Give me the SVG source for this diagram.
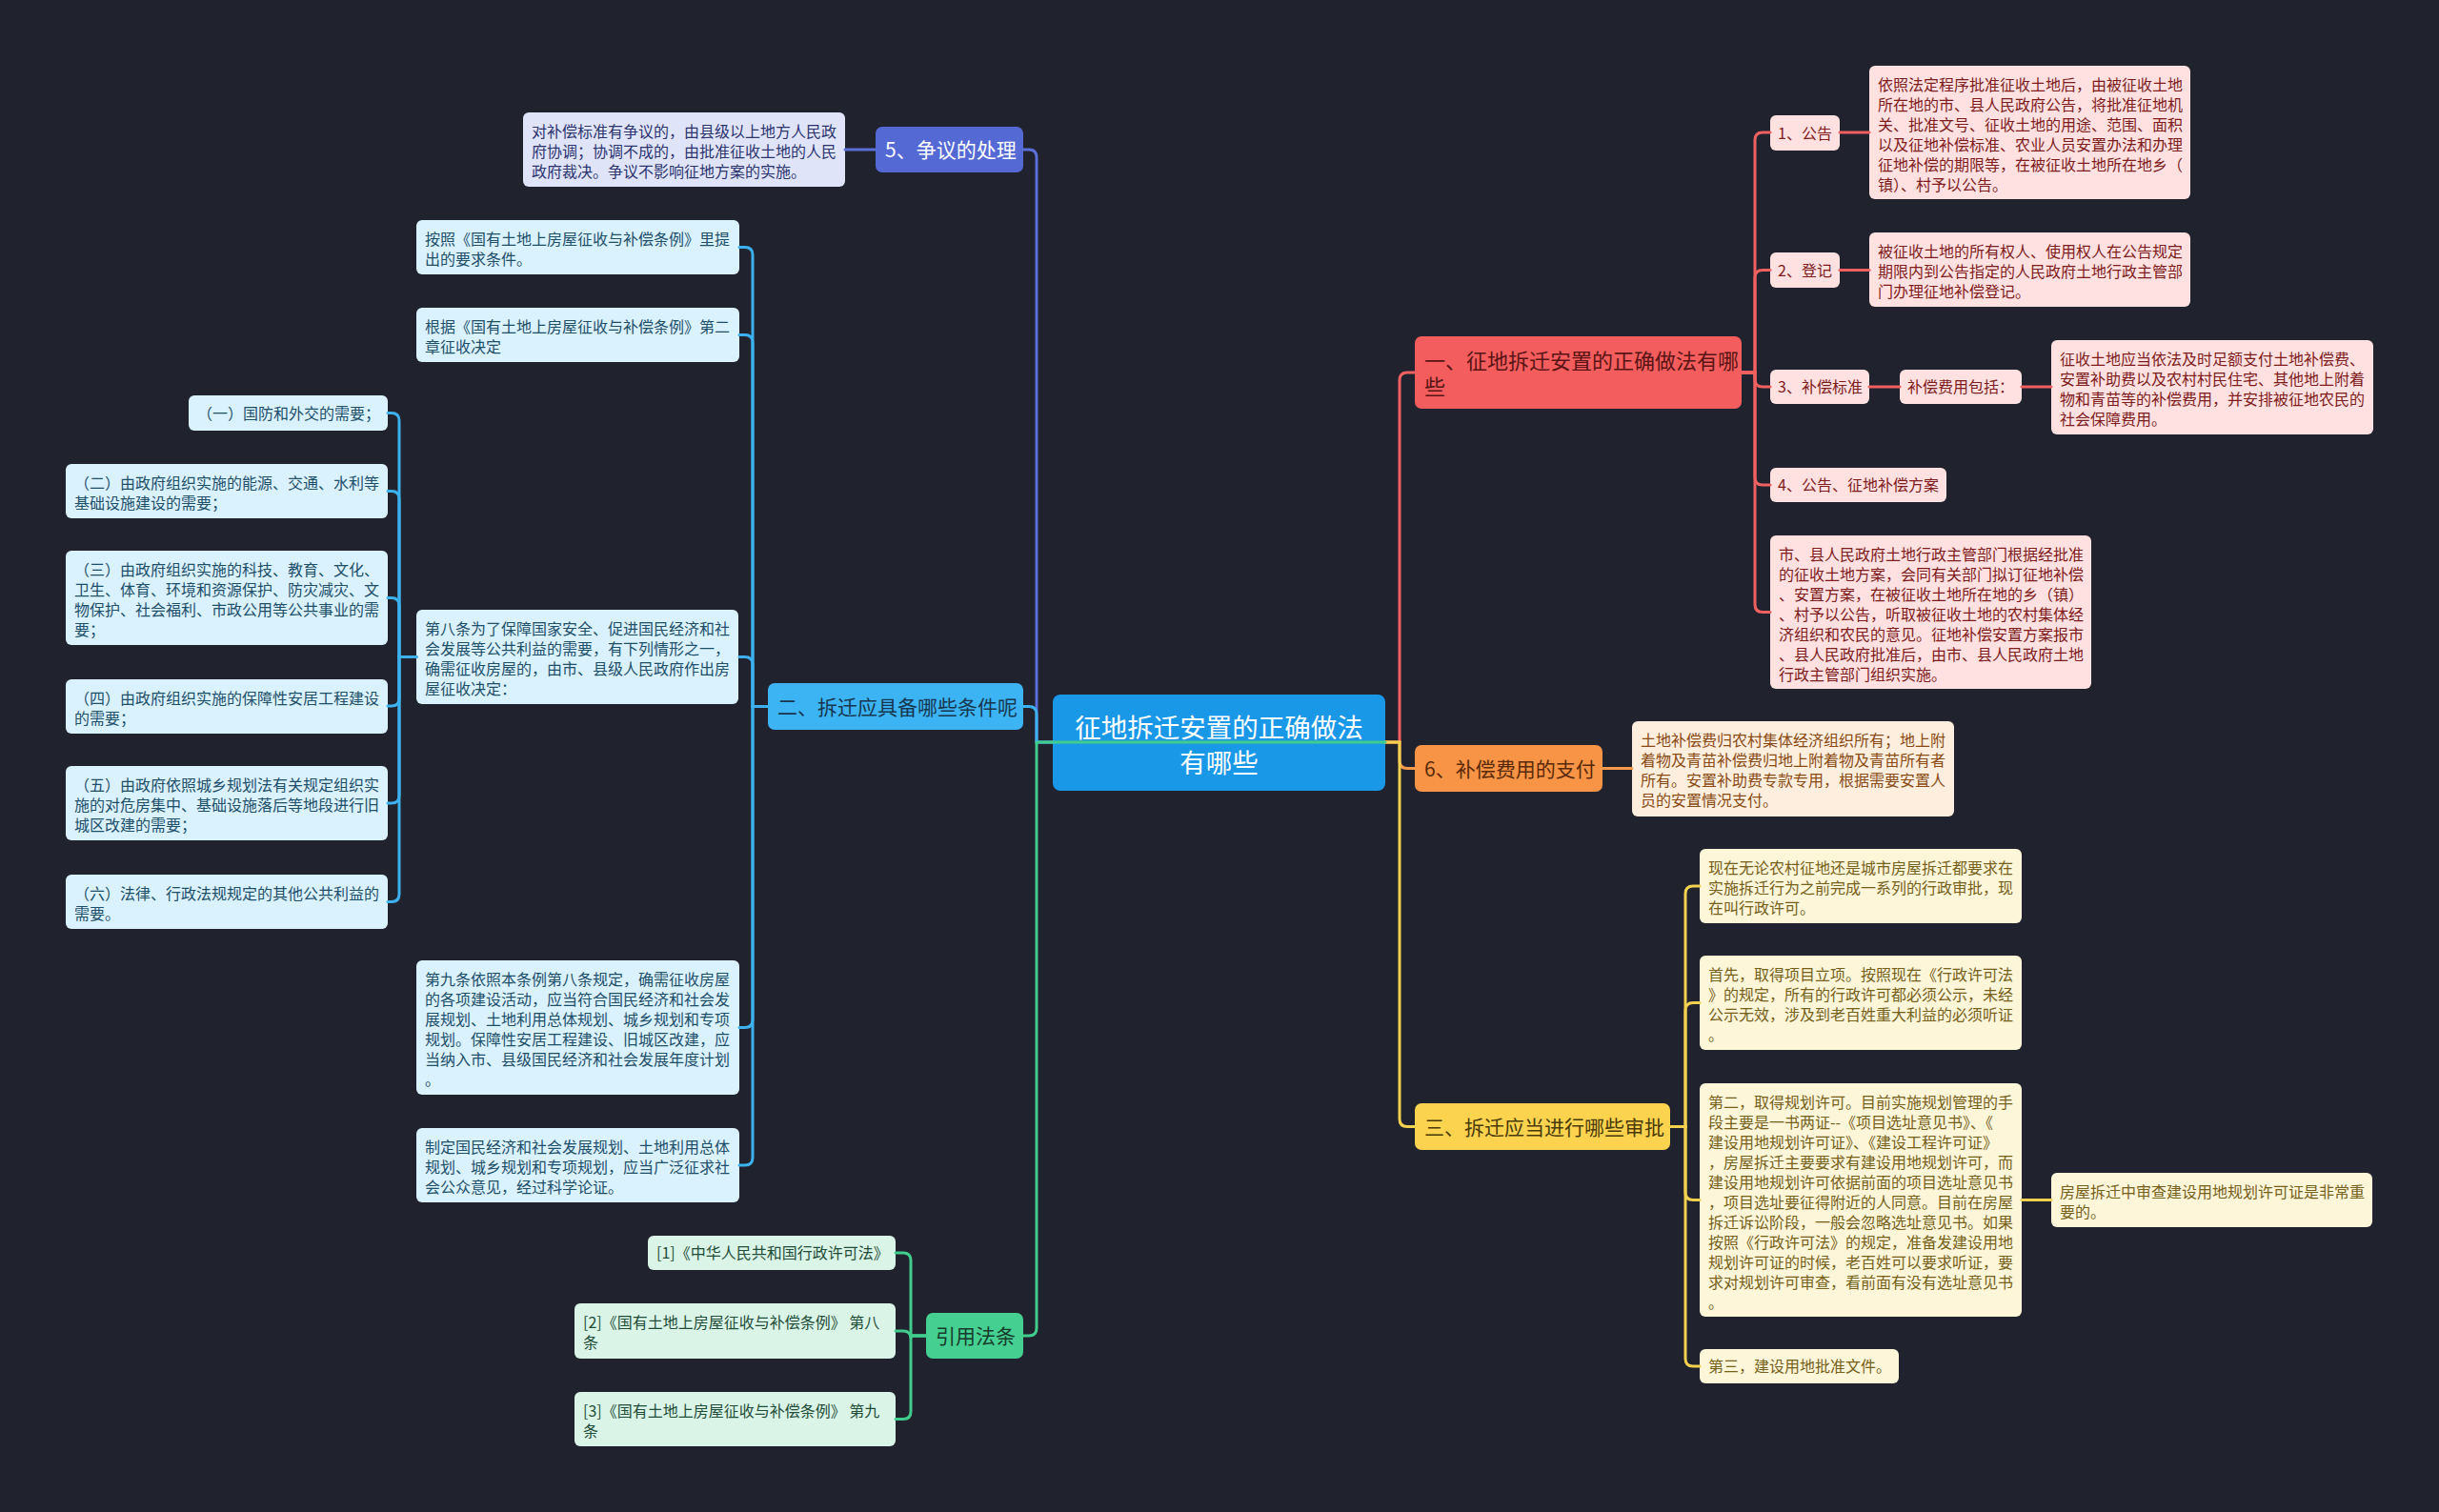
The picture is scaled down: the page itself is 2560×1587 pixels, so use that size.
<svg xmlns="http://www.w3.org/2000/svg" width="2560" height="1587" viewBox="0 0 2560 1587">
<style>
text{font-family:"Noto Sans CJK SC","Noto Sans",sans-serif;}
.leaf{font-size:16px;}
.l1{font-size:21px;}
.c{fill:none;stroke-width:3;stroke-linecap:round;}
.cr{stroke:#ef6060;}.co{stroke:#f59a4a;}.cy{stroke:#f2d050;}
.cp{stroke:#5a6fd8;}.cb{stroke:#3db0ee;}.cg{stroke:#40cc8c;}
.fr{fill:#ffe1e1;}.tr{fill:#7e1b1b;}
.fo{fill:#feeedd;}.to{fill:#8a4a14;}
.fy{fill:#fdf6d8;}.ty{fill:#76601a;}
.fp{fill:#e0e4f8;}.tp{fill:#2c3470;}
.fb{fill:#daf2fd;}.tb{fill:#1d4f6b;}
.fg{fill:#daf4e8;}.tg{fill:#1f4d38;}
</style>
<rect width="2560" height="1587" fill="#20232e"/>

<g id="root">
<rect x="1105" y="729" width="349" height="101" rx="8" fill="#1a98e8"/>
<text x="1279.5" y="773.5" font-size="27.5" fill="#ffffff" text-anchor="middle">征地拆迁安置的正确做法</text>
<text x="1279.5" y="810.5" font-size="27.5" fill="#ffffff" text-anchor="middle">有哪些</text>
</g>

<g id="n-5">
<rect x="919" y="133" width="155" height="48" rx="7" fill="#5469d4"/>
<text class="l1" x="929" y="165" fill="#ffffff">5、争议的处理</text>
</g>
<g id="n-5-1">
<rect class="fp" x="549" y="118" width="338" height="78" rx="6"/>
<text class="leaf tp"><tspan x="558" y="144">对补偿标准有争议的，由县级以上地方人民政</tspan><tspan x="558" y="165">府协调；协调不成的，由批准征收土地的人民</tspan><tspan x="558" y="186">政府裁决。争议不影响征地方案的实施。</tspan></text>
</g>

<g id="n-2">
<rect x="806" y="717" width="268" height="49" rx="7" fill="#3cb4f3"/>
<text class="l1" x="816" y="749.5" fill="#173650">二、拆迁应具备哪些条件呢</text>
</g>
<g id="n-2-1">
<rect class="fb" x="437" y="231" width="339" height="57" rx="6"/>
<text class="leaf tb"><tspan x="446" y="257">按照《国有土地上房屋征收与补偿条例》里提</tspan><tspan x="446" y="278">出的要求条件。</tspan></text>
</g>
<g id="n-2-2">
<rect class="fb" x="437" y="323" width="339" height="57" rx="6"/>
<text class="leaf tb"><tspan x="446" y="349">根据《国有土地上房屋征收与补偿条例》第二</tspan><tspan x="446" y="370">章征收决定</tspan></text>
</g>
<g id="n-2-3">
<rect class="fb" x="437" y="640" width="338" height="99" rx="6"/>
<text class="leaf tb"><tspan x="446" y="666">第八条为了保障国家安全、促进国民经济和社</tspan><tspan x="446" y="687">会发展等公共利益的需要，有下列情形之一，</tspan><tspan x="446" y="708">确需征收房屋的，由市、县级人民政府作出房</tspan><tspan x="446" y="729">屋征收决定：</tspan></text>
</g>
<g id="n-2-3-1">
<rect class="fb" x="198" y="415" width="209" height="37" rx="6"/>
<text class="leaf tb" x="207" y="439.5">（一）国防和外交的需要；</text>
</g>
<g id="n-2-3-2">
<rect class="fb" x="69" y="487" width="338" height="57" rx="6"/>
<text class="leaf tb"><tspan x="78" y="513">（二）由政府组织实施的能源、交通、水利等</tspan><tspan x="78" y="534">基础设施建设的需要；</tspan></text>
</g>
<g id="n-2-3-3">
<rect class="fb" x="69" y="578" width="338" height="99" rx="6"/>
<text class="leaf tb"><tspan x="78" y="604">（三）由政府组织实施的科技、教育、文化、</tspan><tspan x="78" y="625">卫生、体育、环境和资源保护、防灾减灾、文</tspan><tspan x="78" y="646">物保护、社会福利、市政公用等公共事业的需</tspan><tspan x="78" y="667">要；</tspan></text>
</g>
<g id="n-2-3-4">
<rect class="fb" x="69" y="713" width="338" height="57" rx="6"/>
<text class="leaf tb"><tspan x="78" y="739">（四）由政府组织实施的保障性安居工程建设</tspan><tspan x="78" y="760">的需要；</tspan></text>
</g>
<g id="n-2-3-5">
<rect class="fb" x="69" y="804" width="338" height="78" rx="6"/>
<text class="leaf tb"><tspan x="78" y="830">（五）由政府依照城乡规划法有关规定组织实</tspan><tspan x="78" y="851">施的对危房集中、基础设施落后等地段进行旧</tspan><tspan x="78" y="872">城区改建的需要；</tspan></text>
</g>
<g id="n-2-3-6">
<rect class="fb" x="69" y="918" width="338" height="57" rx="6"/>
<text class="leaf tb"><tspan x="78" y="944">（六）法律、行政法规规定的其他公共利益的</tspan><tspan x="78" y="965">需要。</tspan></text>
</g>
<g id="n-2-4">
<rect class="fb" x="437" y="1008" width="339" height="141" rx="6"/>
<text class="leaf tb"><tspan x="446" y="1034">第九条依照本条例第八条规定，确需征收房屋</tspan><tspan x="446" y="1055">的各项建设活动，应当符合国民经济和社会发</tspan><tspan x="446" y="1076">展规划、土地利用总体规划、城乡规划和专项</tspan><tspan x="446" y="1097">规划。保障性安居工程建设、旧城区改建，应</tspan><tspan x="446" y="1118">当纳入市、县级国民经济和社会发展年度计划</tspan><tspan x="446" y="1139">。</tspan></text>
</g>
<g id="n-2-5">
<rect class="fb" x="437" y="1184" width="339" height="78" rx="6"/>
<text class="leaf tb"><tspan x="446" y="1210">制定国民经济和社会发展规划、土地利用总体</tspan><tspan x="446" y="1231">规划、城乡规划和专项规划，应当广泛征求社</tspan><tspan x="446" y="1252">会公众意见，经过科学论证。</tspan></text>
</g>

<g id="n-law">
<rect x="972" y="1378" width="102" height="48" rx="7" fill="#45d092"/>
<text class="l1" x="982" y="1410" fill="#173a2a">引用法条</text>
</g>
<g id="n-law-1">
<rect class="fg" x="680" y="1297" width="260" height="36" rx="6"/>
<text class="leaf tg" x="689" y="1321">[1]《中华人民共和国行政许可法》</text>
</g>
<g id="n-law-2">
<rect class="fg" x="603" y="1368" width="337" height="58" rx="6"/>
<text class="leaf tg"><tspan x="612" y="1394">[2]《国有土地上房屋征收与补偿条例》 第八</tspan><tspan x="612" y="1415">条</tspan></text>
</g>
<g id="n-law-3">
<rect class="fg" x="603" y="1461" width="337" height="57" rx="6"/>
<text class="leaf tg"><tspan x="612" y="1487">[3]《国有土地上房屋征收与补偿条例》 第九</tspan><tspan x="612" y="1508">条</tspan></text>
</g>

<g id="n-1">
<rect x="1485" y="353" width="343" height="76" rx="7" fill="#f45d5d"/>
<text font-size="22" fill="#5a1414"><tspan x="1495" y="386.5">一、征地拆迁安置的正确做法有哪</tspan><tspan x="1495" y="413.5">些</tspan></text>
</g>
<g id="n-1-1">
<rect class="fr" x="1858" y="121" width="73" height="37" rx="6"/>
<text class="leaf tr" x="1866" y="145.5">1、公告</text>
</g>
<g id="n-1-1-1">
<rect class="fr" x="1962" y="69" width="337" height="140" rx="6"/>
<text class="leaf tr"><tspan x="1971" y="95">依照法定程序批准征收土地后，由被征收土地</tspan><tspan x="1971" y="116">所在地的市、县人民政府公告，将批准征地机</tspan><tspan x="1971" y="137">关、批准文号、征收土地的用途、范围、面积</tspan><tspan x="1971" y="158">以及征地补偿标准、农业人员安置办法和办理</tspan><tspan x="1971" y="179">征地补偿的期限等，在被征收土地所在地乡（</tspan><tspan x="1971" y="200">镇）、村予以公告。</tspan></text>
</g>
<g id="n-1-2">
<rect class="fr" x="1858" y="265" width="73" height="37" rx="6"/>
<text class="leaf tr" x="1866" y="289.5">2、登记</text>
</g>
<g id="n-1-2-1">
<rect class="fr" x="1962" y="244" width="337" height="78" rx="6"/>
<text class="leaf tr"><tspan x="1971" y="270">被征收土地的所有权人、使用权人在公告规定</tspan><tspan x="1971" y="291">期限内到公告指定的人民政府土地行政主管部</tspan><tspan x="1971" y="312">门办理征地补偿登记。</tspan></text>
</g>
<g id="n-1-3">
<rect class="fr" x="1858" y="388" width="104" height="36" rx="6"/>
<text class="leaf tr" x="1866" y="412">3、补偿标准</text>
</g>
<g id="n-1-3-1">
<rect class="fr" x="1994" y="388" width="128" height="36" rx="6"/>
<text class="leaf tr" x="2002" y="412">补偿费用包括：</text>
</g>
<g id="n-1-3-1-1">
<rect class="fr" x="2153" y="357" width="338" height="99" rx="6"/>
<text class="leaf tr"><tspan x="2162" y="383">征收土地应当依法及时足额支付土地补偿费、</tspan><tspan x="2162" y="404">安置补助费以及农村村民住宅、其他地上附着</tspan><tspan x="2162" y="425">物和青苗等的补偿费用，并安排被征地农民的</tspan><tspan x="2162" y="446">社会保障费用。</tspan></text>
</g>
<g id="n-1-4">
<rect class="fr" x="1858" y="491" width="185" height="36" rx="6"/>
<text class="leaf tr" x="1866" y="515">4、公告、征地补偿方案</text>
</g>
<g id="n-1-5">
<rect class="fr" x="1858" y="562" width="337" height="161" rx="6"/>
<text class="leaf tr"><tspan x="1867" y="588">市、县人民政府土地行政主管部门根据经批准</tspan><tspan x="1867" y="609">的征收土地方案，会同有关部门拟订征地补偿</tspan><tspan x="1867" y="630">、安置方案，在被征收土地所在地的乡（镇）</tspan><tspan x="1867" y="651">、村予以公告，听取被征收土地的农村集体经</tspan><tspan x="1867" y="672">济组织和农民的意见。征地补偿安置方案报市</tspan><tspan x="1867" y="693">、县人民政府批准后，由市、县人民政府土地</tspan><tspan x="1867" y="714">行政主管部门组织实施。</tspan></text>
</g>

<g id="n-6">
<rect x="1485" y="782" width="197" height="49" rx="7" fill="#f89445"/>
<text class="l1" x="1495" y="814.5" fill="#5a2a08">6、补偿费用的支付</text>
</g>
<g id="n-6-1">
<rect class="fo" x="1713" y="757" width="338" height="100" rx="6"/>
<text class="leaf to"><tspan x="1722" y="783">土地补偿费归农村集体经济组织所有；地上附</tspan><tspan x="1722" y="804">着物及青苗补偿费归地上附着物及青苗所有者</tspan><tspan x="1722" y="825">所有。安置补助费专款专用，根据需要安置人</tspan><tspan x="1722" y="846">员的安置情况支付。</tspan></text>
</g>

<g id="n-3">
<rect x="1485" y="1158" width="268" height="49" rx="7" fill="#fbd34f"/>
<text class="l1" x="1495" y="1190.5" fill="#4a3a08">三、拆迁应当进行哪些审批</text>
</g>
<g id="n-3-1">
<rect class="fy" x="1784" y="891" width="338" height="78" rx="6"/>
<text class="leaf ty"><tspan x="1793" y="917">现在无论农村征地还是城市房屋拆迁都要求在</tspan><tspan x="1793" y="938">实施拆迁行为之前完成一系列的行政审批，现</tspan><tspan x="1793" y="959">在叫行政许可。</tspan></text>
</g>
<g id="n-3-2">
<rect class="fy" x="1784" y="1003" width="338" height="99" rx="6"/>
<text class="leaf ty"><tspan x="1793" y="1029">首先，取得项目立项。按照现在《行政许可法</tspan><tspan x="1793" y="1050">》的规定，所有的行政许可都必须公示，未经</tspan><tspan x="1793" y="1071">公示无效，涉及到老百姓重大利益的必须听证</tspan><tspan x="1793" y="1092">。</tspan></text>
</g>
<g id="n-3-3">
<rect class="fy" x="1784" y="1137" width="338" height="245" rx="6"/>
<text class="leaf ty"><tspan x="1793" y="1163">第二，取得规划许可。目前实施规划管理的手</tspan><tspan x="1793" y="1184">段主要是一书两证--《项目选址意见书》、《</tspan><tspan x="1793" y="1205">建设用地规划许可证》、《建设工程许可证》</tspan><tspan x="1793" y="1226">，房屋拆迁主要要求有建设用地规划许可，而</tspan><tspan x="1793" y="1247">建设用地规划许可依据前面的项目选址意见书</tspan><tspan x="1793" y="1268">，项目选址要征得附近的人同意。目前在房屋</tspan><tspan x="1793" y="1289">拆迁诉讼阶段，一般会忽略选址意见书。如果</tspan><tspan x="1793" y="1310">按照《行政许可法》的规定，准备发建设用地</tspan><tspan x="1793" y="1331">规划许可证的时候，老百姓可以要求听证，要</tspan><tspan x="1793" y="1352">求对规划许可审查，看前面有没有选址意见书</tspan><tspan x="1793" y="1373">。</tspan></text>
</g>
<g id="n-3-3-1">
<rect class="fy" x="2153" y="1231" width="337" height="57" rx="6"/>
<text class="leaf ty"><tspan x="2162" y="1257">房屋拆迁中审查建设用地规划许可证是非常重</tspan><tspan x="2162" y="1278">要的。</tspan></text>
</g>
<g id="n-3-4">
<rect class="fy" x="1784" y="1416" width="209" height="36" rx="6"/>
<text class="leaf ty" x="1793" y="1440">第三，建设用地批准文件。</text>
</g>

<g id="connectors">
<path class="c cr" d="M1454 779 H1469 V399 Q1469 391 1477 391 H1485"/>
<path class="c co" d="M1454 779 H1469 V798.5 Q1469 806.5 1477 806.5 H1485"/>
<path class="c cy" d="M1454 779 H1469 V1174.5 Q1469 1182.5 1477 1182.5 H1485"/>
<path class="c cp" d="M1105 779 H1088 V165 Q1088 157 1080 157 H1074"/>
<path class="c cb" d="M1105 779 H1088 V749.5 Q1088 741.5 1080 741.5 H1074"/>
<path class="c cg" d="M1454 779 H1088 V1394 Q1088 1402 1080 1402 H1074"/>

<path class="c cr" d="M1828 391 H1842 V147 Q1842 139 1850 139 H1858"/>
<path class="c cr" d="M1828 391 H1842 V291.5 Q1842 283.5 1850 283.5 H1858"/>
<path class="c cr" d="M1828 391 H1842 V398 Q1842 406 1850 406 H1858"/>
<path class="c cr" d="M1828 391 H1842 V501 Q1842 509 1850 509 H1858"/>
<path class="c cr" d="M1828 391 H1842 V634.5 Q1842 642.5 1850 642.5 H1858"/>
<path class="c cr" d="M1931 139 H1962"/>
<path class="c cr" d="M1931 283.5 H1962"/>
<path class="c cr" d="M1962 406 H1994"/>
<path class="c cr" d="M2122 406 H2153"/>

<path class="c co" d="M1682 806.5 H1713"/>

<path class="c cy" d="M1753 1182.5 H1769 V938 Q1769 930 1777 930 H1784"/>
<path class="c cy" d="M1753 1182.5 H1769 V1060.5 Q1769 1052.5 1777 1052.5 H1784"/>
<path class="c cy" d="M1753 1182.5 H1769 V1251.5 Q1769 1259.5 1777 1259.5 H1784"/>
<path class="c cy" d="M1753 1182.5 H1769 V1426 Q1769 1434 1777 1434 H1784"/>
<path class="c cy" d="M2122 1259.5 H2153"/>

<path class="c cp" d="M919 157 H887"/>

<path class="c cb" d="M806 741.5 H790 V267.5 Q790 259.5 782 259.5 H776"/>
<path class="c cb" d="M806 741.5 H790 V359.5 Q790 351.5 782 351.5 H776"/>
<path class="c cb" d="M806 741.5 H790 V697.5 Q790 689.5 782 689.5 H776"/>
<path class="c cb" d="M806 741.5 H790 V1070.5 Q790 1078.5 782 1078.5 H776"/>
<path class="c cb" d="M806 741.5 H790 V1215 Q790 1223 782 1223 H776"/>

<path class="c cb" d="M437 689.5 H419 V441.5 Q419 433.5 411 433.5 H407"/>
<path class="c cb" d="M437 689.5 H419 V523.5 Q419 515.5 411 515.5 H407"/>
<path class="c cb" d="M437 689.5 H419 V635.5 Q419 627.5 411 627.5 H407"/>
<path class="c cb" d="M437 689.5 H419 V733 Q419 741 411 741 H407"/>
<path class="c cb" d="M437 689.5 H419 V835 Q419 843 411 843 H407"/>
<path class="c cb" d="M437 689.5 H419 V938.5 Q419 946.5 411 946.5 H407"/>

<path class="c cg" d="M972 1402 H956 V1323 Q956 1315 948 1315 H940"/>
<path class="c cg" d="M972 1402 H956 V1405 Q956 1397 948 1397 H940"/>
<path class="c cg" d="M972 1402 H956 V1481.5 Q956 1489.5 948 1489.5 H940"/>
</g>
</svg>
